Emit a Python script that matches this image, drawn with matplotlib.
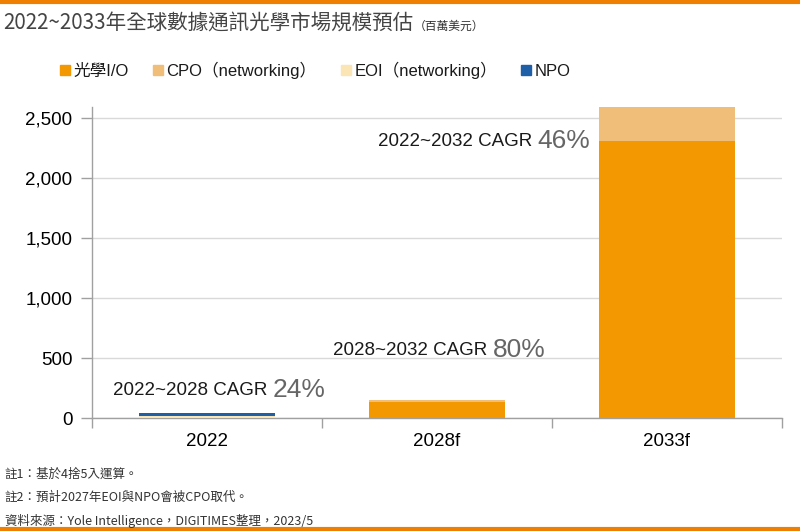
import matplotlib
matplotlib.use("Agg")
import matplotlib.pyplot as plt
from matplotlib.lines import Line2D
import numpy as np

plt.rcParams['font.family'] = ['Liberation Sans', 'Noto Sans CJK TC', 'DejaVu Sans']

categories = ["2022", "2028f", "2033f"]
series_names = ["光學I/O", "CPO（networking）", "EOI（networking）", "NPO"]
optical_io = [0, 133, 2310]
cpo = [0, 17, 280]
eoi = [20, 0, 0]
npo = [25, 0, 0]
colors = ["#F39800", "#F0BE78", "#FBE5B5", "#1F5FA8"]
yticks = [0, 500, 1000, 1500, 2000, 2500]
ytick_labels = ["0", "500", "1,000", "1,500", "2,000", "2,500"]
cagr_prefix = ["2022~2028 CAGR ", "2028~2032 CAGR ", "2022~2032 CAGR "]
cagr_value = ["24%", "80%", "46%"]

CJK = ['Liberation Sans', 'Noto Sans CJK TC', 'DejaVu Sans']
CJK_FIRST = ['Noto Sans CJK TC', 'DejaVu Sans']

fig = plt.figure(figsize=(8, 5.31), dpi=100)
ax = fig.add_axes([0.115, 0.2128, 0.8625, 0.5857])

x = np.arange(len(categories))
w = 0.59
bottom = np.zeros(len(categories))
for vals, c in zip([optical_io, cpo, eoi, npo], colors):
    ax.bar(x, vals, w, bottom=bottom, color=c, zorder=3)
    bottom += np.array(vals)

ax.set_xlim(-0.5, 2.5)
ax.set_ylim(0, 2592)
ax.set_yticks(yticks)
ax.set_yticklabels(ytick_labels, fontsize=13.5)
ax.set_xticks(x)
ax.set_xticklabels(categories, fontsize=13.5)
ax.tick_params(axis='x', length=0, pad=11)
ax.set_xticks([-0.5, 0.5, 1.5, 2.5], minor=True)
ax.tick_params(axis='x', which='minor', length=7, color='#A0A0A0', width=1)
ax.tick_params(axis='y', length=8, color='#A0A0A0', width=1, pad=6)
ax.grid(axis='y', color='#D9D9D9', linewidth=1, zorder=0)
for s in ['top', 'right']:
    ax.spines[s].set_visible(False)
for s in ['left', 'bottom']:
    ax.spines[s].set_color('#A0A0A0')
    ax.spines[s].set_linewidth(1)

# CAGR annotations (left edge, baseline)
ann_pos = [(-0.409, 190), (0.548, 525), (0.743, 2267)]
for (ax_x, ax_y), pre, val in zip(ann_pos, cagr_prefix, cagr_value):
    t = ax.annotate(pre, xy=(ax_x, ax_y), xycoords='data', fontsize=13.5,
                    color='#1a1a1a', va='baseline', ha='left')
    ax.annotate(val, xy=(1, 0), xycoords=t, fontsize=19, color='#666666',
                va='bottom', ha='left', xytext=(0, -2), textcoords='offset points')

# Legend
handles = [Line2D([0], [0], marker='s', linestyle='none', markersize=7,
                  markerfacecolor=c, markeredgecolor=c) for c in colors]
leg = fig.legend(handles, series_names, loc='center left', bbox_to_anchor=(0.066, 0.868),
                 ncol=4, frameon=False, handlelength=0.5, handletextpad=0.25,
                 columnspacing=1.5, borderpad=0, prop={'family': CJK, 'size': 12})
for t in leg.get_texts():
    t.set_color('#1a1a1a')

# Title
title = fig.text(0.004, 0.955, "2022~2033年全球數據通訊光學市場規模預估", fontsize=14.8,
                 family=CJK_FIRST, color='#444444', va='center', ha='left')
ax.annotate("（百萬美元）", xy=(1, 0.4), xycoords=title, fontsize=8.5, family=CJK_FIRST,
            color='#333333', va='center', ha='left', annotation_clip=False)

# Footnotes
notes = ["註1：基於4捨5入運算。", "註2：預計2027年EOI與NPO會被CPO取代。",
         "資料來源：Yole Intelligence，DIGITIMES整理，2023/5"]
for i, n in enumerate(notes):
    fig.text(0.006, 1 - (474 + 23.5 * i) / 531, n, fontsize=9, family=CJK_FIRST,
             color='#333333', va='center', ha='left')

# Orange rules
fig.add_artist(Line2D([0, 1], [0.997, 0.997], color='#EE7F00', linewidth=3, transform=fig.transFigure))
fig.add_artist(Line2D([0, 1], [0.003, 0.003], color='#EE7F00', linewidth=3, transform=fig.transFigure))

fig.savefig("out.png", dpi=100)
